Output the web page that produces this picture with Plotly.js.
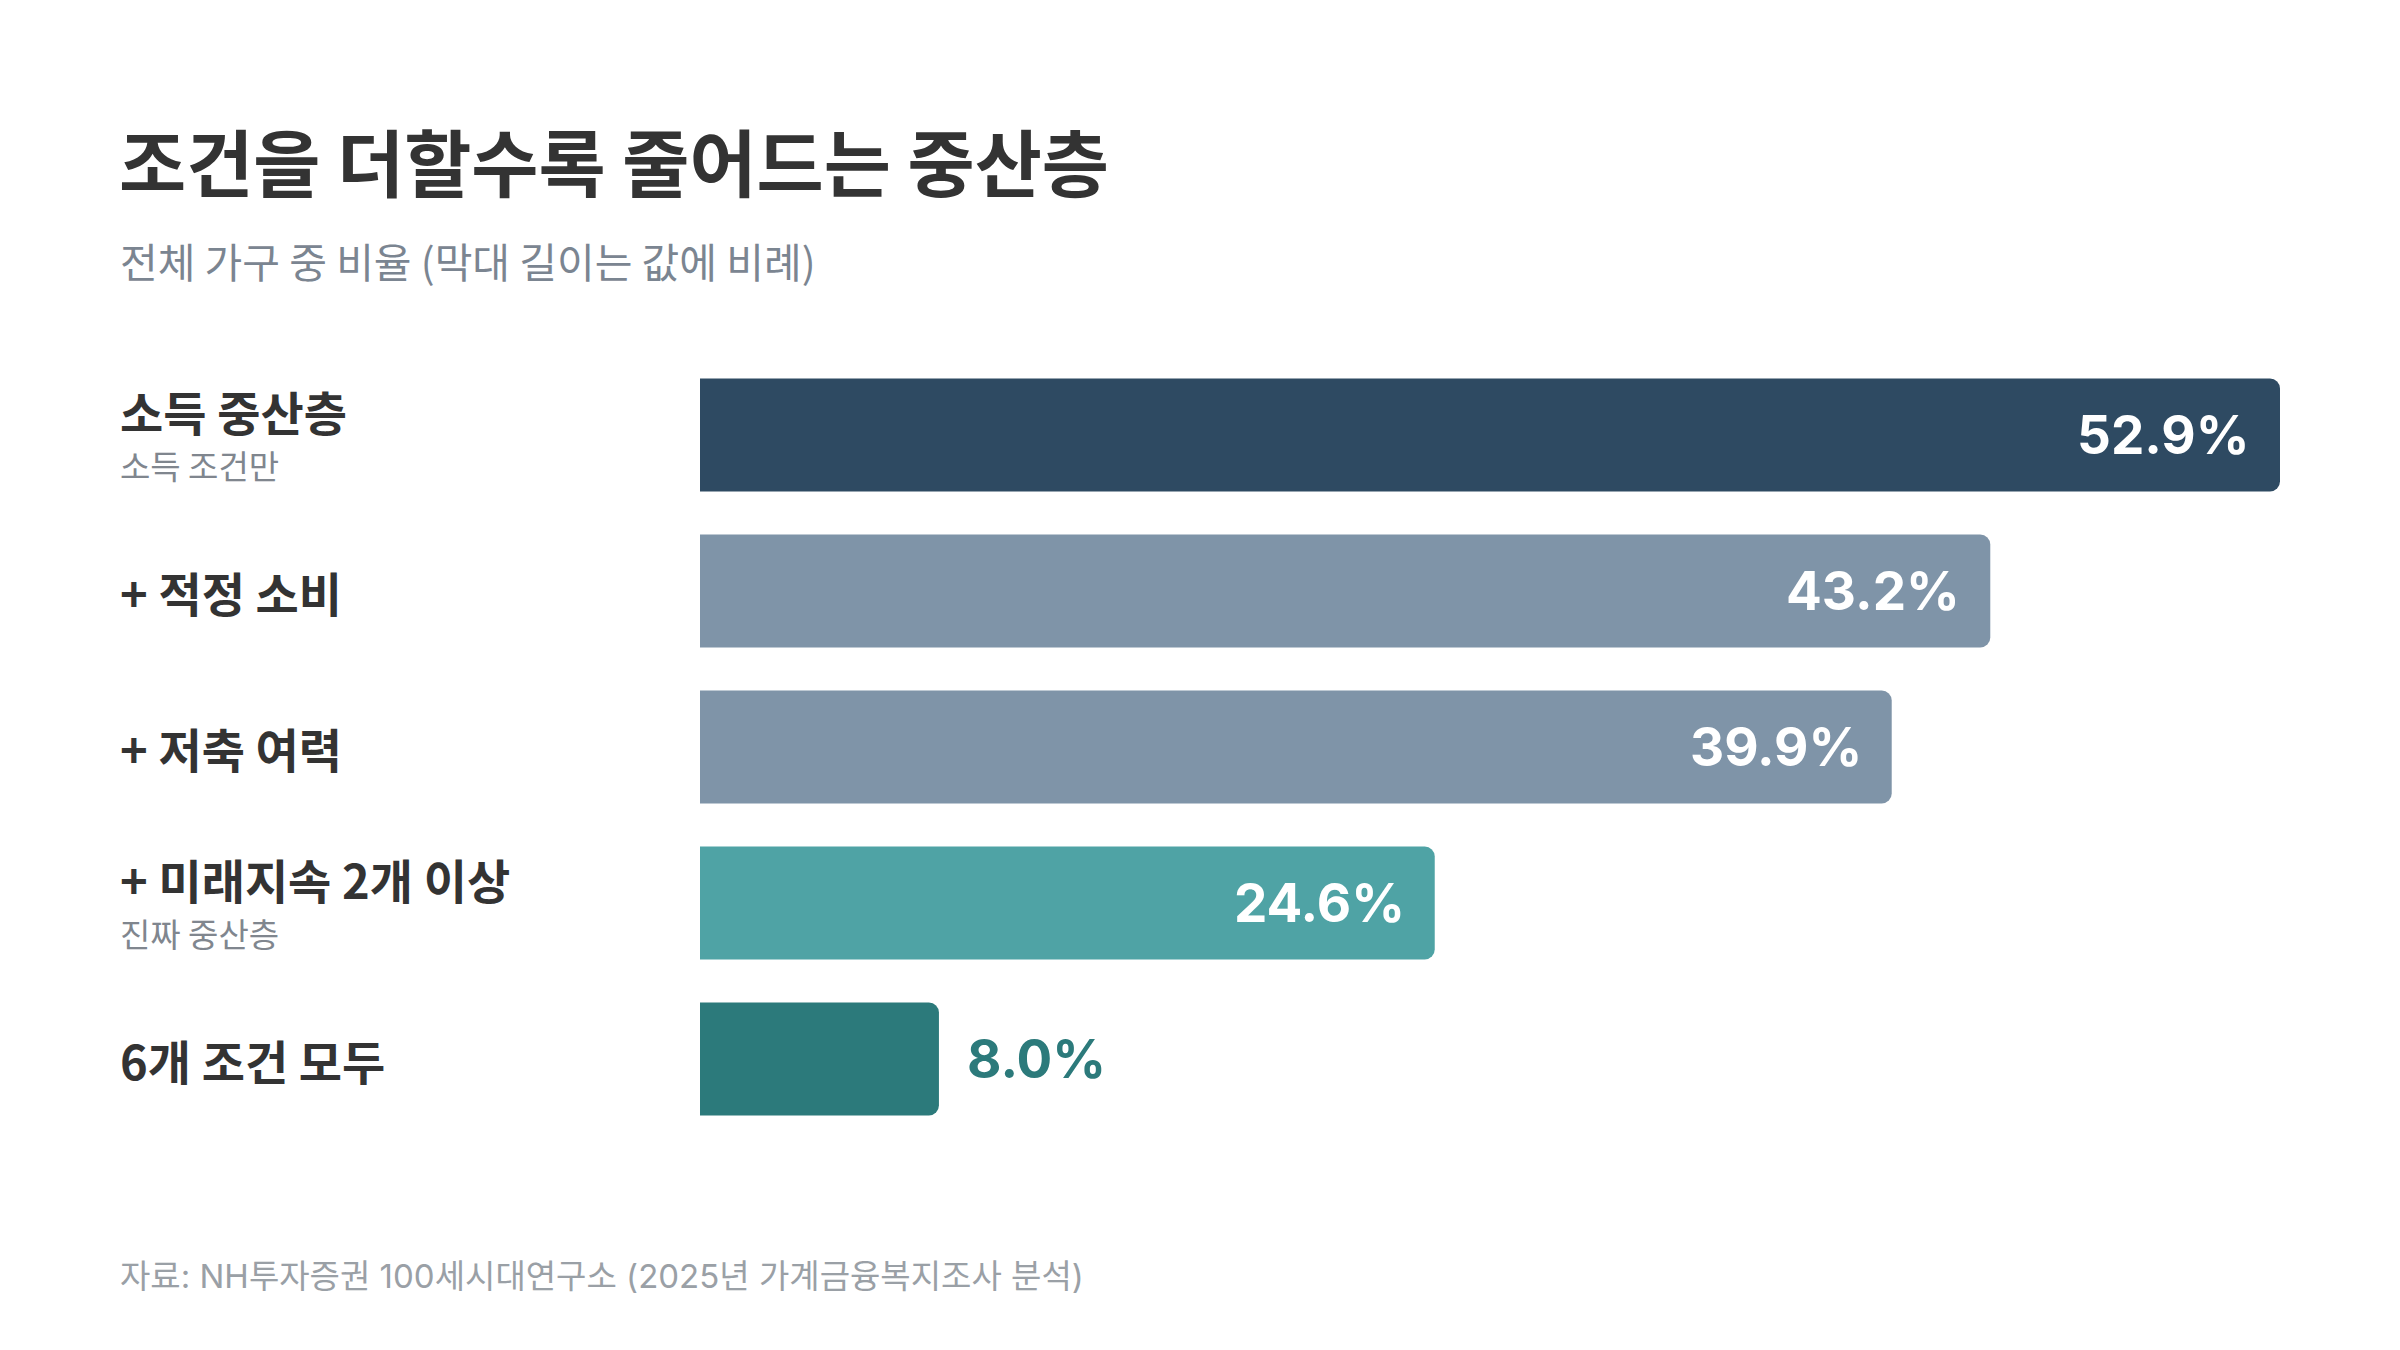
<!DOCTYPE html>
<html>
<head>
<meta charset="utf-8">
<script src="https://cdn.plot.ly/plotly-3.0.1.min.js"></script>
<style>
  html, body { margin: 0; padding: 0; background: #fff; }
  #chart { width: 2400px; height: 1350px; }
</style>
</head>
<body>
<div id="chart"></div>
<script>
var categories = ['소득 중산층', '+ 적정 소비', '+ 저축 여력', '+ 미래지속 2개 이상', '6개 조건 모두'];
var subLabels = ['소득 조건만', '', '', '진짜 중산층', ''];
var values = [52.9, 43.2, 39.9, 24.6, 8.0];
var barColors = ['#2E4A62', '#7F94A8', '#7F94A8', '#4FA3A5', '#2C7A7B'];

var FONT = "Inter, 'Noto Sans CJK KR', sans-serif";
var KFONT = "'Noto Sans CJK KR', Inter, sans-serif";
var LEFT = -0.3685;

var data = [{
    type: 'bar',
    orientation: 'h',
    x: values,
    y: categories,
    marker: {color: barColors, cornerradius: 10},
    hoverinfo: 'none'
}];

var annotations = [];

// row labels on the left
categories.forEach(function(c, i) {
    var hasSub = subLabels[i] !== '';
    annotations.push({
        xref: 'paper', yref: 'y',
        x: LEFT, y: c,
        xanchor: 'left', yanchor: 'middle',
        yshift: hasSub ? 25 : 0,
        text: c,
        showarrow: false,
        font: {family: KFONT, size: 47, color: '#333333', weight: 700}
    });
    if (hasSub) {
        annotations.push({
            xref: 'paper', yref: 'y',
            x: LEFT, y: c,
            xanchor: 'left', yanchor: 'middle',
            yshift: -30,
            text: subLabels[i],
            showarrow: false,
            font: {family: KFONT, size: 33, color: '#80868e'}
        });
    }
});

// value labels
values.forEach(function(v, i) {
    var inside = v > 15;
    annotations.push({
        xref: 'x', yref: 'y',
        x: v, y: categories[i],
        xanchor: inside ? 'right' : 'left',
        yanchor: 'middle',
        xshift: inside ? -28 : 26,
        text: v.toFixed(1) + '%',
        showarrow: false,
        font: {family: FONT, size: 53, color: inside ? '#ffffff' : barColors[i], weight: 700}
    });
});

// subtitle
annotations.push({
    xref: 'paper', yref: 'paper',
    x: LEFT, y: 1.1243,
    xanchor: 'left', yanchor: 'middle',
    text: '전체 가구 중 비율 (막대 길이는 값에 비례)',
    showarrow: false,
    font: {family: KFONT, size: 41, color: '#7b8591'}
});

// source
annotations.push({
    xref: 'paper', yref: 'paper',
    x: LEFT, y: -0.178,
    xanchor: 'left', yanchor: 'middle',
    text: '자료: NH투자증권 100세시대연구소 (2025년 가계금융복지조사 분석)',
    showarrow: false,
    font: {family: FONT, size: 33, color: '#9aa0a6'}
});

var layout = {
    width: 2400,
    height: 1350,
    margin: {l: 700, r: 120, t: 357, b: 213},
    paper_bgcolor: '#ffffff',
    plot_bgcolor: '#ffffff',
    showlegend: false,
    bargap: 0.276,
    title: {
        text: '조건을 더할수록 줄어드는 중산층',
        x: 119 / 2400,
        xref: 'container',
        xanchor: 'left',
        y: 1 - 165 / 1350,
        yref: 'container',
        yanchor: 'middle',
        font: {family: KFONT, size: 73, color: '#333333', weight: 700}
    },
    xaxis: {
        range: [0, 52.9],
        showgrid: false, zeroline: false, showticklabels: false, showline: false,
        fixedrange: true
    },
    yaxis: {
        type: 'category',
        autorange: 'reversed',
        showgrid: false, zeroline: false, showticklabels: false, showline: false,
        fixedrange: true
    },
    annotations: annotations
};

Plotly.newPlot('chart', data, layout, {displayModeBar: false, staticPlot: true});
</script>
</body>
</html>
